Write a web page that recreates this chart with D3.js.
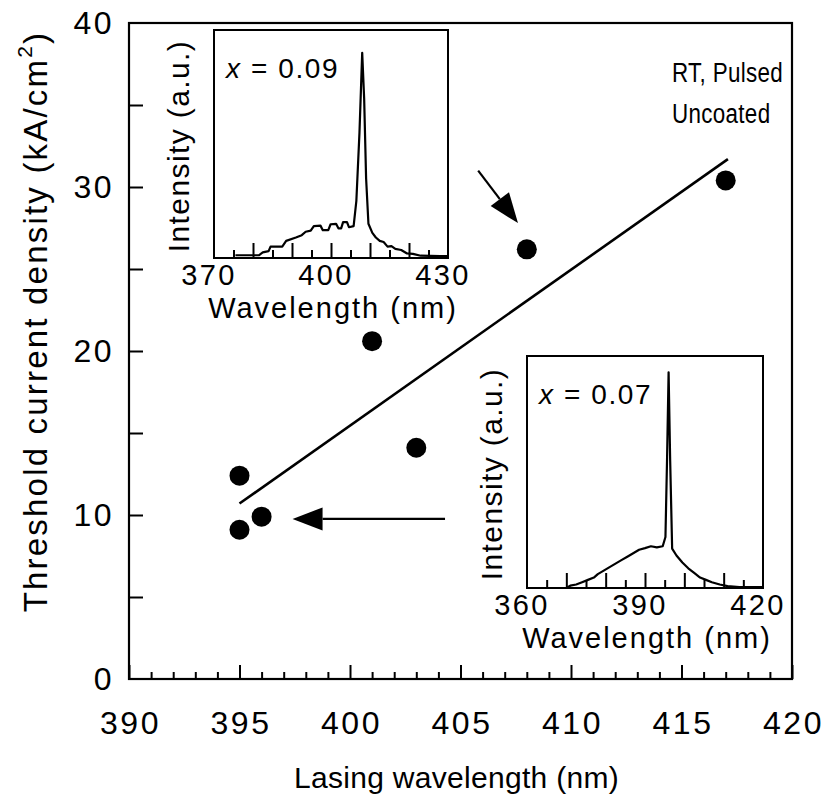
<!DOCTYPE html>
<html>
<head>
<meta charset="utf-8">
<script src="https://cdn.jsdelivr.net/npm/d3@7"></script>
<style>
  body { margin: 0; background: #fff; }
  svg text { font-family: "Liberation Sans", Arial, Helvetica, sans-serif; fill: #000; }
</style>
</head>
<body>
<svg id="chart" width="827" height="802"></svg>
<script>
// ---- main data: threshold current density vs lasing wavelength ----
const wavelength = [395, 395, 396, 401, 403, 408, 417];
const threshold  = [12.4, 9.1, 9.9, 20.6, 14.1, 26.2, 30.4];
const fitWl  = [395, 417.1];
const fitJth = [10.7, 31.7];
const xTickLabels = [390, 395, 400, 405, 410, 415, 420];
const yTickLabels = [0, 10, 20, 30, 40];

// arrows, in data units [x0, y0, x1, y1]
const arrowA = [405.8, 31.0, 407.6, 27.8];
const arrowB = [404.3, 9.76, 397.4, 9.76];

// ---- inset spectra (normalised intensity) ----
const spec1Wl  = [375.5, 381.5, 382.5, 384, 384.5, 387.5, 388.5, 391, 392.5, 393.5, 394.8, 395.6, 397.3, 397.9, 399.3, 399.9, 401.3, 401.9, 402.6, 403.1, 404.1, 404.6, 405.8, 406.5, 407.3, 408, 408.5, 409, 409.6, 410.6, 411.5, 412.5, 413.5, 414.5, 415.5, 416.5, 418, 419.5, 421, 423, 428, 430];
const spec1Int = [0.012, 0.012, 0.025, 0.03, 0.05, 0.05, 0.075, 0.09, 0.10, 0.115, 0.12, 0.14, 0.142, 0.122, 0.122, 0.148, 0.15, 0.13, 0.13, 0.157, 0.157, 0.135, 0.14, 0.25, 0.55, 0.90, 0.70, 0.35, 0.15, 0.11, 0.09, 0.075, 0.07, 0.05, 0.052, 0.04, 0.035, 0.02, 0.018, 0.01, 0.008, 0.008];
const spec1Ticks = [370, 400, 430];

const spec2Wl  = [370, 371, 372.5, 374, 375.5, 377, 378, 379.5, 381, 382.5, 384, 385.5, 387, 388.5, 390, 391.5, 393, 394.5, 395.2, 395.6, 396, 396.4, 396.9, 398, 399.5, 401, 402.5, 404, 405.5, 407, 409, 411, 414, 420];
const spec2Int = [0.0, 0.01, 0.015, 0.025, 0.035, 0.045, 0.06, 0.075, 0.09, 0.105, 0.12, 0.135, 0.15, 0.165, 0.172, 0.18, 0.175, 0.18, 0.22, 0.55, 0.93, 0.55, 0.17, 0.14, 0.11, 0.085, 0.065, 0.045, 0.035, 0.025, 0.015, 0.008, 0.004, 0.004];
const spec2Ticks = [360, 390, 420];

const svg = d3.select("#chart");
const M = { left: 129, right: 792, top: 23, bottom: 679 };

const x = d3.scaleLinear().domain([390, 420]).range([M.left, M.right]);
const y = d3.scaleLinear().domain([0, 40]).range([M.bottom, M.top]);

// frame
svg.append("rect")
  .attr("x", M.left).attr("y", M.top)
  .attr("width", M.right - M.left).attr("height", M.bottom - M.top)
  .attr("fill", "none").attr("stroke", "#000").attr("stroke-width", 2.2);

// x axis: minor ticks every 1 nm, major every 5 nm (pointing inward)
const xMinor = d3.range(391, 420, 1).filter(v => v % 5 !== 0);
svg.append("g")
  .attr("transform", `translate(0,${M.bottom})`)
  .call(d3.axisBottom(x).tickValues(xMinor).tickSize(-7).tickFormat(""))
  .call(g => g.select(".domain").remove())
  .call(g => g.selectAll("line").attr("stroke-width", 2));

svg.append("g")
  .attr("transform", `translate(0,${M.bottom})`)
  .call(d3.axisBottom(x).tickValues(xTickLabels).tickSize(-14).tickPadding(32).tickFormat(d3.format("d")))
  .call(g => g.select(".domain").remove())
  .call(g => g.selectAll("line").attr("stroke-width", 2))
  .call(g => g.selectAll("text").attr("font-size", 32).attr("letter-spacing", 2.5).attr("dx", 1));

// y axis: ticks every 5, labels every 10
svg.append("g")
  .attr("transform", `translate(${M.left},0)`)
  .call(d3.axisLeft(y).tickValues(d3.range(5, 40, 5)).tickSize(-14).tickFormat(""))
  .call(g => g.select(".domain").remove())
  .call(g => g.selectAll("line").attr("stroke-width", 2));

svg.append("g")
  .attr("transform", `translate(${M.left},0)`)
  .call(d3.axisLeft(y).tickValues(yTickLabels).tickSize(0).tickPadding(15).tickFormat(d3.format("d")))
  .call(g => g.select(".domain").remove())
  .call(g => g.selectAll("line").remove())
  .call(g => g.selectAll("text").attr("font-size", 32).attr("letter-spacing", 2.5));

svg.selectAll(".tick text").attr("font-family", null);

// axis titles
svg.append("text")
  .attr("x", (M.left + M.right) / 2 - 4).attr("y", 788)
  .attr("text-anchor", "middle").attr("font-size", 30).attr("letter-spacing", 0.3)
  .text("Lasing wavelength (nm)");

const yTitle = svg.append("text")
  .attr("transform", `translate(47,${(26 + 617) / 2}) rotate(-90)`)
  .attr("text-anchor", "middle").attr("font-size", 33).attr("letter-spacing", 2.2);
yTitle.append("tspan").text("Threshold current density (kA/cm");
yTitle.append("tspan").attr("font-size", 21).attr("dy", -15).text("2");
yTitle.append("tspan").attr("dy", 15).text(")");

// linear fit
svg.append("path")
  .datum(d3.zip(fitWl, fitJth))
  .attr("d", d3.line().x(d => x(d[0])).y(d => y(d[1])))
  .attr("fill", "none").attr("stroke", "#000").attr("stroke-width", 2.6);

// data points
svg.append("g").selectAll("circle")
  .data(d3.zip(wavelength, threshold))
  .join("circle")
  .attr("cx", d => x(d[0])).attr("cy", d => y(d[1]))
  .attr("r", 10).attr("fill", "#000");

// arrows
function drawArrow(a) {
  const x0 = x(a[0]), y0 = y(a[1]), x1 = x(a[2]), y1 = y(a[3]);
  const ang = Math.atan2(y1 - y0, x1 - x0);
  const len = 30, half = 11.5;
  const bx = x1 - len * Math.cos(ang), by = y1 - len * Math.sin(ang);
  svg.append("line")
    .attr("x1", x0).attr("y1", y0).attr("x2", bx).attr("y2", by)
    .attr("stroke", "#000").attr("stroke-width", 2.2);
  const px = -Math.sin(ang) * half, py = Math.cos(ang) * half;
  svg.append("path")
    .attr("d", `M${x1},${y1}L${bx + px},${by + py}L${bx - px},${by - py}Z`)
    .attr("fill", "#000");
}
drawArrow(arrowA);
drawArrow(arrowB);

// annotation (narrow-looking lettering in the original)
svg.append("text").attr("transform", "translate(672,82) scale(0.8,1)")
  .attr("font-size", 28).attr("letter-spacing", 0.4).text("RT, Pulsed");
svg.append("text").attr("transform", "translate(672,123) scale(0.8,1)")
  .attr("font-size", 28).attr("letter-spacing", 0.4).text("Uncoated");

// ---- insets ----
function drawInset(box, domain, wl, inten, labels, note) {
  const g = svg.append("g");
  const ix = d3.scaleLinear().domain(domain).range([box.x0, box.x1]);
  const iy = d3.scaleLinear().domain([0, 1]).range([box.y1, box.y0]);

  g.append("rect")
    .attr("x", box.x0).attr("y", box.y0)
    .attr("width", box.x1 - box.x0).attr("height", box.y1 - box.y0)
    .attr("fill", "#fff").attr("stroke", "#000").attr("stroke-width", 2);

  const ticks = d3.range(domain[0] + 5, domain[1], 5);
  g.append("g")
    .attr("transform", `translate(0,${box.y1})`)
    .call(d3.axisBottom(ix).tickValues(ticks.filter(v => v % 10 !== 0)).tickSize(-8).tickFormat(""))
    .call(a => a.select(".domain").remove())
    .call(a => a.selectAll("line").attr("stroke-width", 2));
  g.append("g")
    .attr("transform", `translate(0,${box.y1})`)
    .call(d3.axisBottom(ix).tickValues(ticks.filter(v => v % 10 === 0)).tickSize(-15).tickFormat(""))
    .call(a => a.select(".domain").remove())
    .call(a => a.selectAll("line").attr("stroke-width", 2));

  g.append("g").selectAll("text")
    .data(labels)
    .join("text")
    .attr("x", d => ix(d) - 5).attr("y", box.y1 + 27)
    .attr("text-anchor", "middle").attr("font-size", 29).attr("letter-spacing", 2.4)
    .text(d => d);

  g.append("text")
    .attr("x", (box.x0 + box.x1) / 2 + 2).attr("y", box.y1 + 60)
    .attr("text-anchor", "middle").attr("font-size", 29).attr("letter-spacing", 2)
    .text("Wavelength (nm)");

  g.append("text")
    .attr("transform", `translate(${box.x0 - 25},${(box.y0 + box.y1) / 2 + 2}) rotate(-90)`)
    .attr("text-anchor", "middle").attr("font-size", 30).attr("letter-spacing", 1.4)
    .text("Intensity (a.u.)");

  const t = g.append("text")
    .attr("x", box.x0 + 12).attr("y", box.y0 + 48)
    .attr("font-size", 28).attr("letter-spacing", 1.6);
  t.append("tspan").attr("font-style", "italic").text("x");
  t.append("tspan").text(" = " + note);

  g.append("path")
    .datum(d3.zip(wl, inten))
    .attr("d", d3.line().x(d => ix(d[0])).y(d => iy(d[1])))
    .attr("fill", "none").attr("stroke", "#000").attr("stroke-width", 2.2)
    .attr("stroke-linejoin", "round");
}

drawInset({ x0: 214, x1: 448, y0: 30, y1: 258 }, [370, 430], spec1Wl, spec1Int, spec1Ticks, "0.09");
drawInset({ x0: 527, x1: 763, y0: 356, y1: 588 }, [360, 420], spec2Wl, spec2Int, spec2Ticks, "0.07");
</script>
</body>
</html>
